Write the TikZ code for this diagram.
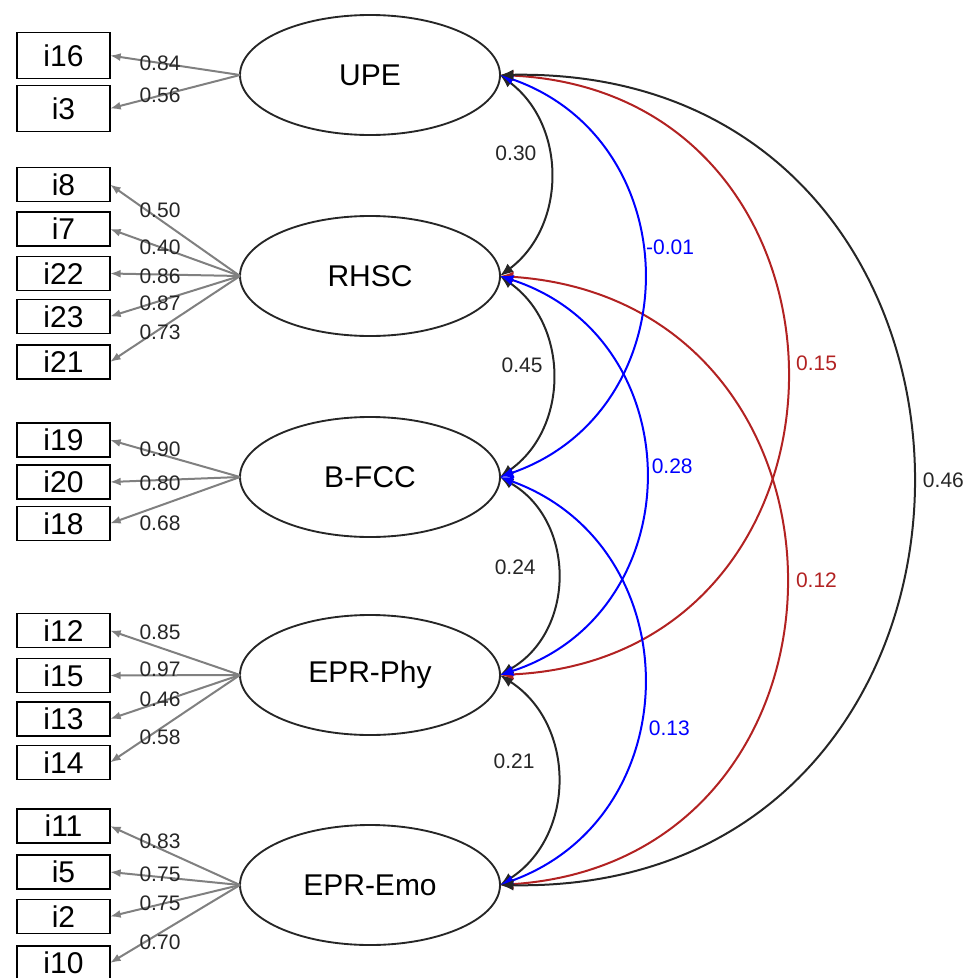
\documentclass[tikz,border=0pt]{standalone}
\usepackage{fontspec}
\setmainfont{Liberation Sans}
\usetikzlibrary{arrows.meta,shapes.geometric}
\definecolor{ink}{RGB}{38,38,38}
\definecolor{loadgray}{RGB}{128,128,128}
\definecolor{covblue}{RGB}{0,0,255}
\definecolor{covred}{RGB}{178,34,34}

\begin{document}
\begin{tikzpicture}[x=0.75pt, y=-0.75pt,
	latent/.style={ellipse, draw=ink, line width=1.4pt, minimum width=195pt, minimum height=90pt, inner sep=0pt, outer sep=0pt, text=black, font=\fontsize{22.5}{27}\selectfont},
	manifest/.style={rectangle, draw=black, line width=1.3pt, minimum width=69.75pt, minimum height=25.5pt, inner sep=0pt, outer sep=0pt, font=\fontsize{22.5}{27}\selectfont},
	loading/.style={draw=loadgray, line width=1.5pt, -{Latex[length=8pt,width=6pt]}},
	loadlbl/.style={text=ink, inner sep=0pt, font=\fontsize{15.75}{18}\selectfont},
	cov/.style={line width=1.5pt, {Latex[length=10pt,width=8pt]}-{Latex[length=10pt,width=8pt]}},
	covlbl/.style={inner sep=0pt, font=\fontsize{15.75}{18}\selectfont}]
		%%%%% START %%%%%
		\useasboundingbox (0,0) rectangle (976,978);
		
		% factors
		\node[latent] (UPE) at (370,75) {UPE};
		\node[latent] (RHSC) at (370,276) {RHSC};
		\node[latent] (BFCC) at (370,477) {B-FCC};
		\node[latent] (EPRPhy) at (370,675) {EPR-Phy};
		\node[latent] (EPREmo) at (370,885) {EPR-Emo};
		
		% items
		\node[manifest, minimum height=34.5pt] (i16) at (63.5,55.5) {i16};
		\node[manifest, minimum height=34.5pt] (i3) at (63.5,108.5) {i3};
		
		\node[manifest] (i8) at (63.5,184.5) {i8};
		\node[manifest] (i7) at (63.5,229) {i7};
		\node[manifest] (i22) at (63.5,273.5) {i22};
		\node[manifest] (i23) at (63.5,316.5) {i23};
		\node[manifest] (i21) at (63.5,362) {i21};
		
		\node[manifest] (i19) at (63.5,440) {i19};
		\node[manifest] (i20) at (63.5,482) {i20};
		\node[manifest] (i18) at (63.5,523.5) {i18};
		
		\node[manifest] (i12) at (63.5,630.5) {i12};
		\node[manifest] (i15) at (63.5,675.5) {i15};
		\node[manifest] (i13) at (63.5,719) {i13};
		\node[manifest] (i14) at (63.5,762.5) {i14};
		
		\node[manifest] (i11) at (63.5,826) {i11};
		\node[manifest] (i5) at (63.5,872) {i5};
		\node[manifest] (i2) at (63.5,916.5) {i2};
		\node[manifest] (i10) at (63.5,963) {i10};
		
		% loadings
		\draw[loading] (UPE.west) -- (i16.east);
		\draw[loading] (UPE.west) -- (i3.east);
		\draw[loading] (RHSC.west) -- (i8.east);
		\draw[loading] (RHSC.west) -- (i7.east);
		\draw[loading] (RHSC.west) -- (i22.east);
		\draw[loading] (RHSC.west) -- (i23.east);
		\draw[loading] (RHSC.west) -- (i21.east);
		\draw[loading] (BFCC.west) -- (i19.east);
		\draw[loading] (BFCC.west) -- (i20.east);
		\draw[loading] (BFCC.west) -- (i18.east);
		\draw[loading] (EPRPhy.west) -- (i12.east);
		\draw[loading] (EPRPhy.west) -- (i15.east);
		\draw[loading] (EPRPhy.west) -- (i13.east);
		\draw[loading] (EPRPhy.west) -- (i14.east);
		\draw[loading] (EPREmo.west) -- (i11.east);
		\draw[loading] (EPREmo.west) -- (i5.east);
		\draw[loading] (EPREmo.west) -- (i2.east);
		\draw[loading] (EPREmo.west) -- (i10.east);
		
		\node[loadlbl] (l16) at (160,63) {0.84};
		\node[loadlbl] (l3) at (160,95.5) {0.56};
		\node[loadlbl] (l8) at (160,210) {0.50};
		\node[loadlbl] (l7) at (160,247) {0.40};
		\node[loadlbl] (l22) at (160,276) {0.86};
		\node[loadlbl] (l23) at (160,303) {0.87};
		\node[loadlbl] (l21) at (160,332) {0.73};
		\node[loadlbl] (l19) at (160,449) {0.90};
		\node[loadlbl] (l20) at (160,483) {0.80};
		\node[loadlbl] (l18) at (160,523) {0.68};
		\node[loadlbl] (l12) at (160,632.5) {0.85};
		\node[loadlbl] (l15) at (160,669) {0.97};
		\node[loadlbl] (l13) at (160,699) {0.46};
		\node[loadlbl] (l14) at (160,737.5) {0.58};
		\node[loadlbl] (l11) at (160,841) {0.83};
		\node[loadlbl] (l5) at (160,874) {0.75};
		\node[loadlbl] (l2) at (160,903) {0.75};
		\node[loadlbl] (l10) at (160,942) {0.70};
		
		% covariances, neighbours
		\draw[cov, color=ink] (UPE.east) .. controls +(66.7,50.4) and +(66.7,-50.4) .. (RHSC.east) node[covlbl, pos=0.40, left=8pt] (c12) {0.30};
		\draw[cov, color=ink] (RHSC.east) .. controls +(69.3,49.1) and +(69.3,-49.1) .. (BFCC.east) node[covlbl, pos=0.45, left=6pt] (c23) {0.45};
		\draw[cov, color=ink] (BFCC.east) .. controls +(76,44.1) and +(76,-44.1) .. (EPRPhy.east) node[covlbl, pos=0.46, left=15pt] (c34) {0.24};
		\draw[cov, color=ink] (EPRPhy.east) .. controls +(76,49.4) and +(76,-49.4) .. (EPREmo.east) node[covlbl, pos=0.42, left=15pt] (c45) {0.21};
		
		% covariances, three apart
		\draw[cov, color=covred] (UPE.east) .. controls +(381.3,18.2) and +(381.3,-18.2) .. (EPRPhy.east) node[covlbl, pos=0.487, right=7pt] (c14) {0.15};
		\draw[cov, color=covred] (RHSC.east) .. controls +(380,25.2) and +(380,-25.2) .. (EPREmo.east) node[covlbl, pos=0.50, right=7.5pt] (c25) {0.12};
		
		% covariances, two apart
		\draw[cov, color=covblue] (UPE.east) .. controls +(190.7,66.2) and +(190.7,-66.2) .. (BFCC.east) node[covlbl, pos=0.443, right=3pt] (c13) {-0.01};
		\draw[cov, color=covblue] (RHSC.east) .. controls +(193.3,62.7) and +(193.3,-62.7) .. (EPRPhy.east) node[covlbl, pos=0.481, right=4.5pt] (c24) {0.28};
		\draw[cov, color=covblue] (BFCC.east) .. controls +(190.7,69.2) and +(190.7,-69.2) .. (EPREmo.east) node[covlbl, pos=0.594, right=7.5pt] (c35) {0.13};
		
		% outermost
		\draw[cov, color=ink] (UPE.east) .. controls +(549.3,-9.4) and +(549.3,9.4) .. (EPREmo.east) node[covlbl, pos=0.50, right=7.5pt] (c15) {0.46};
		
		%%%%% END %%%%%
\end{tikzpicture}
\end{document}
